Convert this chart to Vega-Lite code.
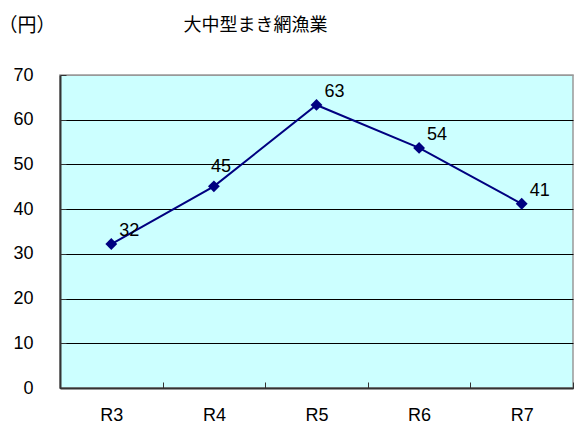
{
  "$schema": "https://vega.github.io/schema/vega-lite/v6.json",
  "width": 513,
  "height": 313,
  "autosize": "none",
  "padding": {"left": 60, "top": 75, "right": 1, "bottom": 35},
  "background": "white",
  "title": {
    "text": "大中型まき網漁業",
    "font": "Noto Sans CJK JP",
    "fontSize": 18,
    "fontWeight": "normal",
    "color": "black",
    "anchor": "middle",
    "dx": -61,
    "offset": -19
  },
  "config": {
    "view": {"fill": "#CCFFFF", "stroke": "#999999", "strokeWidth": 1.5},
    "font": "Liberation Sans"
  },
  "data": {
    "values": [
      {"year": "R3", "value": 32.2, "label": 32},
      {"year": "R4", "value": 45.1, "label": 45},
      {"year": "R5", "value": 63.3, "label": 63},
      {"year": "R6", "value": 53.7, "label": 54},
      {"year": "R7", "value": 41.2, "label": 41}
    ]
  },
  "encoding": {
    "x": {
      "field": "year",
      "type": "ordinal",
      "scale": {"paddingInner": 0, "paddingOuter": 0},
      "axis": {
        "title": null,
        "labelAngle": 0,
        "labelFont": "Liberation Sans",
        "labelFontSize": 18,
        "labelColor": "black",
        "labelPadding": 24,
        "domainColor": "#333333",
        "domainWidth": 2,
        "tickColor": "#333333",
        "tickSize": -6,
        "tickBand": "extent",
        "grid": false
      }
    },
    "y": {
      "field": "value",
      "type": "quantitative",
      "scale": {"domain": [0, 70], "nice": false},
      "axis": {
        "title": "（円）",
        "titleFont": "Noto Sans CJK JP",
        "titleFontSize": 19,
        "titleFontWeight": "normal",
        "titleColor": "black",
        "titleAngle": 0,
        "titleAlign": "left",
        "titleBaseline": "middle",
        "titleX": -62,
        "titleY": -50,
        "values": [0, 10, 20, 30, 40, 50, 60, 70],
        "labelFont": "Liberation Sans",
        "labelFontSize": 18,
        "labelColor": "black",
        "labelPadding": 33,
        "domainColor": "#333333",
        "domainWidth": 2,
        "tickColor": "#333333",
        "tickSize": -6,
        "grid": true,
        "gridColor": {"condition": {"test": "datum.value == 70", "value": "#999999"}, "value": "black"},
        "gridOpacity": 1,
        "gridWidth": 1
      }
    }
  },
  "layer": [
    {"mark": {"type": "line", "color": "#000080", "strokeWidth": 2}},
    {"mark": {"type": "point", "shape": "diamond", "filled": true, "color": "#000080", "size": 140, "opacity": 1}},
    {
      "transform": [{"filter": "datum.year != 'R4'"}],
      "mark": {"type": "text", "align": "center", "baseline": "middle", "dx": 18, "dy": -13, "font": "Liberation Sans", "fontSize": 18, "color": "black"},
      "encoding": {"text": {"field": "label", "type": "quantitative"}}
    },
    {
      "transform": [{"filter": "datum.year == 'R4'"}],
      "mark": {"type": "text", "align": "center", "baseline": "middle", "dx": 7, "dy": -19, "font": "Liberation Sans", "fontSize": 18, "color": "black"},
      "encoding": {"text": {"field": "label", "type": "quantitative"}}
    }
  ]
}
